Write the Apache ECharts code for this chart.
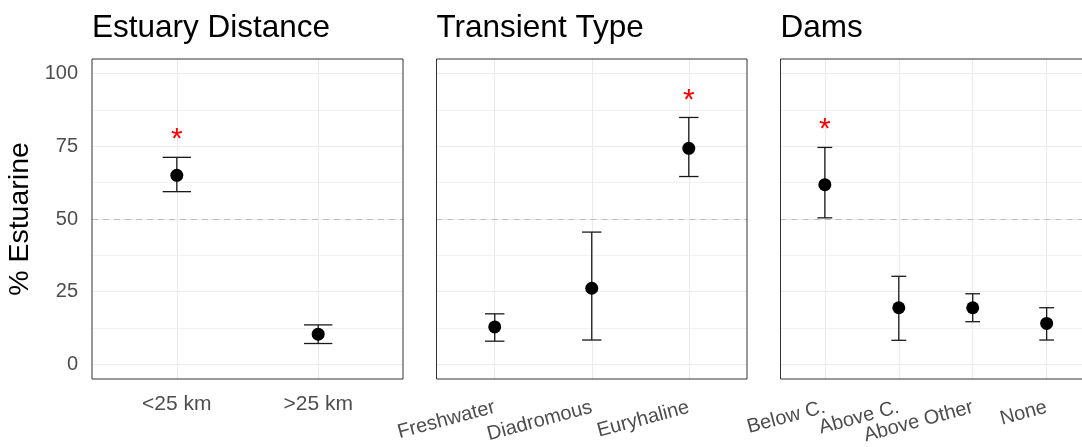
<!DOCTYPE html>
<html><head><meta charset="utf-8">
<script src="https://cdn.jsdelivr.net/npm/echarts@6/dist/echarts.min.js"></script>
<style>html,body{margin:0;padding:0;background:#fff}#c{width:1082px;height:447px}</style>
</head><body><div id="c"></div>
<script>
// ---- data ----
const titles = ['Estuary Distance', 'Transient Type', 'Dams'];

const estCats = ['<25 km', '>25 km'];
const estMean = [65.0, 10.4];
const estLow  = [59.4, 7.2];
const estHigh = [71.2, 13.6];
const estStar = [[0, 79.3]];

const transCats = ['Freshwater', 'Diadromous', 'Euryhaline'];
const transMean = [12.9, 26.2, 74.3];
const transLow  = [8.0, 8.4, 64.6];
const transHigh = [17.4, 45.5, 84.9];
const transStar = [[2, 92.6]];

const damCats = ['Below C.', 'Above C.', 'Above Other', 'None'];
const damMean = [61.8, 19.5, 19.5, 14.1];
const damLow  = [50.4, 8.3, 14.7, 8.4];
const damHigh = [74.6, 30.3, 24.3, 19.5];
const damStar = [[0, 82.6]];

const yTicks = [0, 25, 50, 75, 100];
const yMinor = [12.5, 37.5, 62.5, 87.5];
const refValue = 50;
const yTitle = '% Estuarine';

// ---- layout / style ----
const FONT = '"Liberation Sans", Arial, Helvetica, sans-serif';
const panels = [
  {cats: estCats, mean: estMean, low: estLow, high: estHigh, star: estStar},
  {cats: transCats, mean: transMean, low: transLow, high: transHigh, star: transStar},
  {cats: damCats, mean: damMean, low: damLow, high: damHigh, star: damStar}
];
const gridLeft = [92, 436.5, 780.5];
const gridWidth = [311, 310.5, 310.5];
const TOP = 59, HEIGHT = 320;

const grids = [], xAxes = [], yAxes = [], series = [], titleOpts = [];

panels.forEach((p, i) => {
  const idx = p.cats.map((c, k) => k);
  grids.push({left: gridLeft[i], top: TOP, width: gridWidth[i], height: HEIGHT,
    containLabel: false, outerBoundsMode: 'none',
    show: true, borderColor: '#333333', borderWidth: 1, backgroundColor: 'transparent', z: 6});
  titleOpts.push({text: titles[i], left: gridLeft[i], top: 12, padding: 0,
    textStyle: {fontFamily: FONT, fontSize: 31.5, fontWeight: 'normal', color: '#000'}});

  // two bottom x axes per panel (even / odd labels) so overlapping slanted labels all stay visible
  const labelBase = {formatter: v => p.cats[Math.round(v)] || '',
    showMinLabel: true, showMaxLabel: true, hideOverlap: false,
    rotate: i === 0 ? 0 : 15, fontSize: i === 0 ? 21 : 20, color: '#4d4d4d', fontFamily: FONT,
    margin: i === 0 ? 15 : 28};
  const xi = xAxes.length;
  [0, 1].forEach(par => {
    xAxes.push({type: 'value', gridIndex: i, position: 'bottom', offset: 0,
      min: -0.6, max: p.cats.length - 0.4,
      axisLine: {show: false}, splitLine: {show: false},
      axisTick: {show: par === 0, customValues: idx, length: 6, lineStyle: {color: '#333333', width: 1}},
      axisLabel: Object.assign({customValues: idx.filter(k => k % 2 === par)}, labelBase)});
  });
  yAxes.push({type: 'value', gridIndex: i, min: -5, max: 105,
    axisLine: {show: false}, splitLine: {show: false},
    axisTick: {show: i === 0, customValues: yTicks, length: 6, lineStyle: {color: '#333333', width: 1}},
    axisLabel: {show: i === 0, customValues: yTicks, showMinLabel: true, showMaxLabel: true,
      fontSize: 20, color: '#4d4d4d', fontFamily: FONT, margin: 14},
    name: i === 0 ? yTitle : '', nameLocation: 'middle', nameGap: 57,
    nameTextStyle: {fontFamily: FONT, fontSize: 28.5, color: '#000'}});

  // grid lines
  const major = {color: '#ebebeb', width: 1.1, type: 'solid'};
  const minor = {color: '#f1f1f1', width: 0.9, type: 'solid'};
  series.push({type: 'line', xAxisIndex: xi, yAxisIndex: i, data: [], z: 1, silent: true,
    markLine: {silent: true, z: 1, symbol: ['none', 'none'], label: {show: false}, animation: false,
      data: [].concat(
        yMinor.map(v => ({yAxis: v, lineStyle: minor})),
        yTicks.map(v => ({yAxis: v, lineStyle: major})),
        idx.map(k => ({xAxis: k, lineStyle: major}))
      )}});
  series.push({type: 'line', xAxisIndex: xi, yAxisIndex: i, data: [], z: 2, silent: true,
    markLine: {silent: true, z: 2, symbol: ['none', 'none'], label: {show: false}, animation: false,
      data: [{yAxis: refValue, lineStyle: {color: '#bdbdbd', width: 1, type: [6, 5]}}]}});

  // error bars
  series.push({type: 'custom', xAxisIndex: xi, yAxisIndex: i, z: 3,
    data: p.low.map((l, k) => [k, l, p.high[k]]),
    encode: {x: 0, y: [1, 2]},
    renderItem: (params, api) => {
      const x = api.value(0);
      const a = api.coord([x, api.value(1)]);
      const b = api.coord([x, api.value(2)]);
      const half = api.size([0.1, 0])[0];
      const st = {stroke: '#1a1a1a', lineWidth: 1.3};
      return {type: 'group', children: [
        {type: 'line', shape: {x1: a[0], y1: a[1], x2: b[0], y2: b[1]}, style: st},
        {type: 'line', shape: {x1: a[0] - half, y1: a[1], x2: a[0] + half, y2: a[1]}, style: st},
        {type: 'line', shape: {x1: b[0] - half, y1: b[1], x2: b[0] + half, y2: b[1]}, style: st}
      ]};
    }});
  // points
  series.push({type: 'scatter', xAxisIndex: xi, yAxisIndex: i, z: 4,
    data: p.mean.map((m, k) => [k, m]), symbol: 'circle', symbolSize: 13,
    itemStyle: {color: '#000', opacity: 1}});
  // significance stars
  series.push({type: 'custom', xAxisIndex: xi, yAxisIndex: i, z: 4,
    data: p.star, encode: {x: 0, y: 1},
    renderItem: (params, api) => {
      const c = api.coord([api.value(0), api.value(1)]);
      return {type: 'text', x: c[0], y: c[1] + 6,
        style: {text: '*', fill: '#ff0000', fontSize: 30, fontFamily: FONT, align: 'center', verticalAlign: 'middle'}};
    }});
});

const chart = echarts.init(document.getElementById('c'), null, {renderer: 'canvas'});
chart.setOption({
  animation: false,
  backgroundColor: '#ffffff',
  title: titleOpts,
  grid: grids, xAxis: xAxes, yAxis: yAxes, series: series
});
</script></body></html>
